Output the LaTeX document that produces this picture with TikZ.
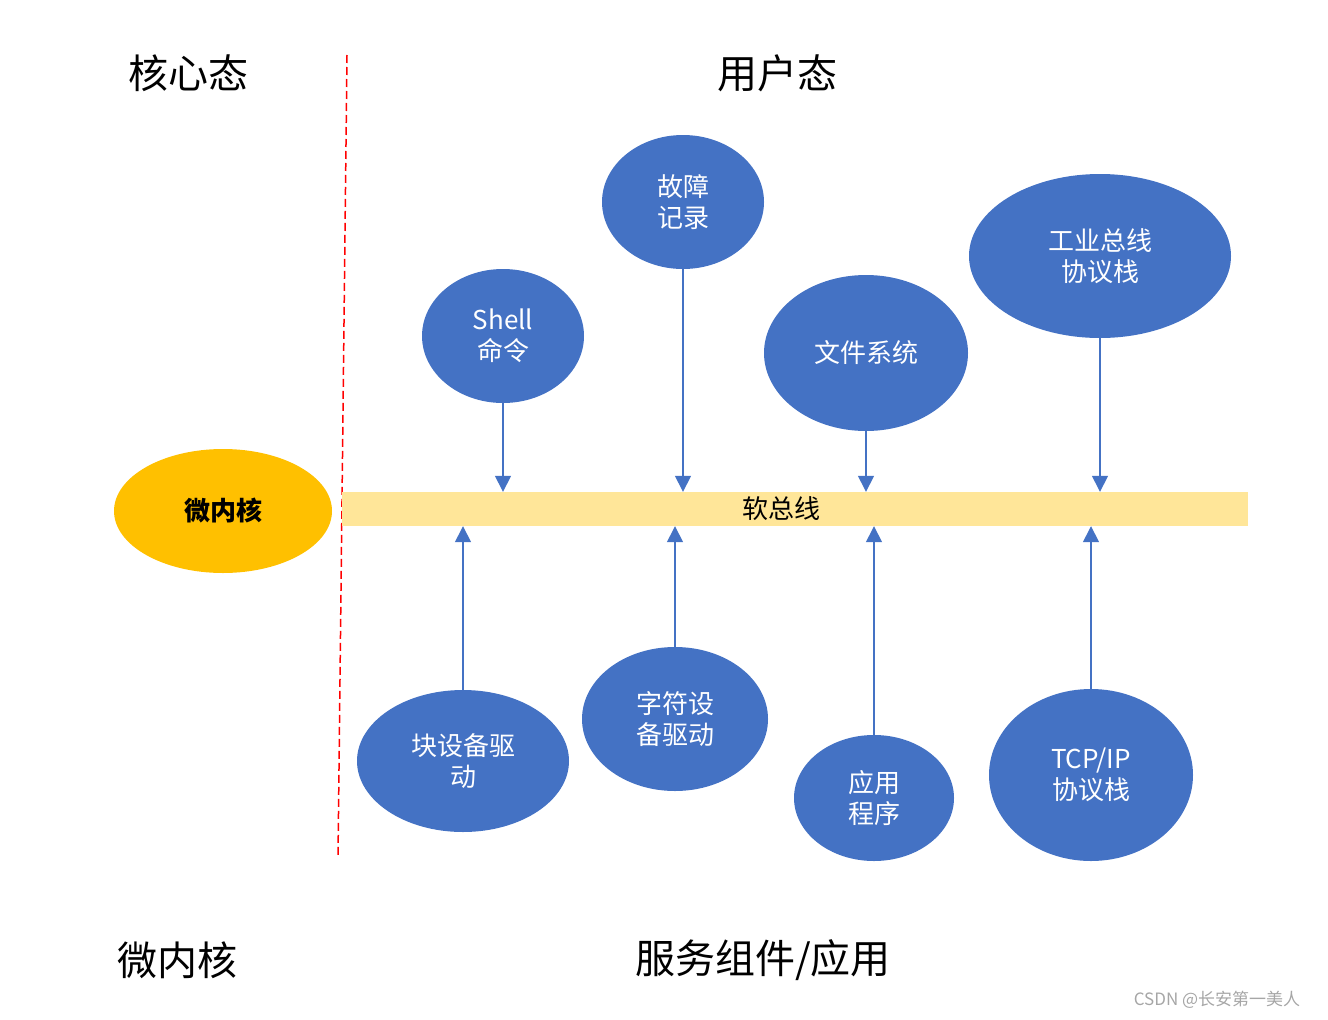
\documentclass[tikz,border=0pt]{standalone}
\usepackage{fontspec}
\setmainfont{Noto Sans CJK SC}
\usetikzlibrary{shapes.geometric,arrows.meta}
\definecolor{compblue}{HTML}{4472C4}
\definecolor{kernelgold}{HTML}{FFC000}
\definecolor{busyellow}{HTML}{FFE699}

\begin{document}
\begin{tikzpicture}[x=1pt, y=-1pt]
  \tikzset{comp/.style={ellipse, fill=compblue, text=white, inner sep=0pt, align=center,
      font=\fontsize{26}{31}\selectfont},
    title/.style={font=\fontsize{40}{48}\selectfont},
    link/.style={compblue, line width=1.5pt, -{Triangle[length=16pt,width=16pt]}}}
  \useasboundingbox (0,0) rectangle (1328,1020);
  % headings
  \node[title] (kernel-mode) at (188,73) {核心态};
  \node[title] (user-mode) at (777,73) {用户态};
  \node[title] (kernel-label) at (177,960) {微内核};
  \node[title] (service-label) at (763,960) {服务组件/应用};
  % separator
  \coordinate (sep-top) at (347,55);
  \coordinate (sep-bot) at (338,858);
  \draw[red, dash pattern=on 8pt off 4pt, line width=1.5pt] (sep-top) -- (sep-bot);
  % bus and kernel
  \node[rectangle, fill=busyellow, minimum width=906pt, minimum height=34pt, inner sep=0pt,
    font=\fontsize{26}{31}\selectfont] (bus) at (795,509) {\hspace*{-28pt}软总线};
  \node[ellipse, fill=kernelgold, minimum width=218pt, minimum height=124pt, inner sep=0pt,
    font=\fontsize{26}{31}\selectfont\bfseries] (kernel) at (223,511) {微内核};
  % components above the bus
  \node[comp, minimum width=162pt, minimum height=134pt] (top-1) at (503,336) {Shell\\命令};
  \node[comp, minimum width=162pt, minimum height=134pt] (top-2) at (683,202) {故障\\记录};
  \node[comp, minimum width=204pt, minimum height=156pt] (top-3) at (866,353) {文件系统};
  \node[comp, minimum width=262pt, minimum height=164pt] (top-4) at (1100,256) {工业总线\\协议栈};
  % components below the bus
  \node[comp, minimum width=212pt, minimum height=142pt] (bot-1) at (463,761) {块设备驱\\动};
  \node[comp, minimum width=186pt, minimum height=144pt] (bot-2) at (675,719) {字符设\\备驱动};
  \node[comp, minimum width=160pt, minimum height=126pt] (bot-3) at (874,798) {应用\\程序};
  \node[comp, minimum width=204pt, minimum height=172pt] (bot-4) at (1091,775) {TCP/IP\\协议栈};
  \foreach \i in {1,...,4} {
    \draw[link] (top-\i.south) -- (top-\i.south |- bus.north);
    \draw[link] (bot-\i.north) -- (bot-\i.north |- bus.south);
  }
  % watermark
  \node[text=gray!70, font=\fontsize{17}{20}\selectfont] (mark) at (1217,1000) {CSDN @长安第一美人};
\end{tikzpicture}
\end{document}
